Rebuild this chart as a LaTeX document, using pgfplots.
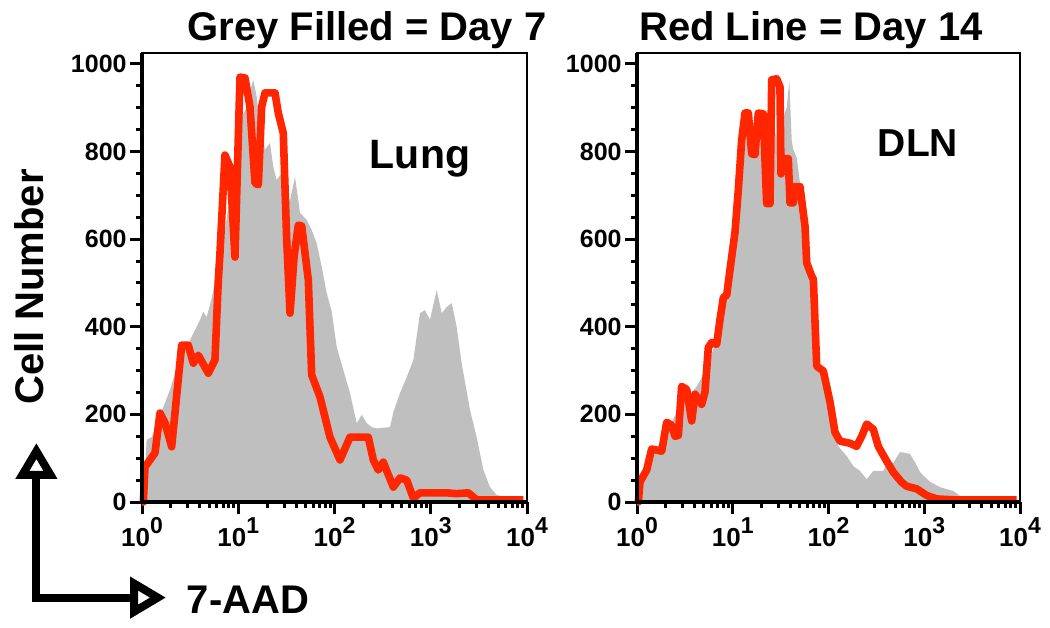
\documentclass[border=0pt]{standalone}
\usepackage{fontspec}
\setmainfont{Liberation Sans}
\usepackage{pgfplots}
\usepackage{pgfplotstable}
\pgfplotsset{compat=1.18}
\usetikzlibrary{arrows.meta}
\definecolor{redl}{RGB}{255,38,0}
\definecolor{greyf}{RGB}{191,191,191}
\newcommand{\pw}[1]{10\raisebox{6.5pt}{\fontsize{11.5}{11.5}\selectfont #1}}
\newcommand{\bigf}{\fontsize{20}{20}\selectfont\bfseries}

\pgfplotstableread{
lx y
0.000 0
0.030 60
0.048 142
0.100 148
0.152 175
0.222 217
0.291 256
0.343 294
0.429 340
0.516 377
0.603 416
0.637 434
0.672 422
0.724 465
0.776 523
0.845 598
0.914 696
0.984 804
1.036 879
1.088 902
1.122 941
1.157 963
1.192 925
1.226 856
1.278 804
1.330 820
1.364 765
1.399 735
1.451 751
1.486 696
1.538 690
1.590 742
1.642 660
1.711 644
1.763 621
1.815 591
1.867 537
1.919 477
1.971 435
2.023 354
2.092 301
2.161 249
2.231 180
2.283 199
2.335 180
2.386 171
2.438 168
2.577 171
2.611 205
2.681 249
2.750 285
2.819 324
2.888 431
2.940 438
2.992 416
3.062 484
3.114 431
3.165 445
3.218 454
3.269 400
3.321 317
3.408 210
3.477 148
3.547 73
3.616 34
3.685 16
3.962 3
4.000 3
}\lunggrey

\pgfplotstableread{
lx y
0.000 0
0.014 0
0.031 80
0.135 112
0.187 203
0.240 180
0.308 126
0.412 358
0.481 358
0.533 317
0.585 335
0.689 294
0.758 324
0.793 507
0.810 568
0.862 792
0.914 765
0.966 559
1.018 970
1.070 968
1.122 902
1.174 728
1.209 724
1.243 902
1.278 934
1.382 934
1.416 888
1.468 842
1.503 600
1.538 431
1.580 560
1.624 632
1.659 630
1.728 507
1.745 400
1.763 290
1.849 240
1.953 148
2.057 96
2.161 148
2.351 148
2.403 96
2.455 73
2.507 91
2.611 34
2.681 55
2.750 50
2.819 9
2.888 21
3.165 21
3.269 19
3.390 21
3.477 5
3.962 5
}\lungred

\pgfplotstableread{
lx y
0.000 0
0.031 10
0.066 46
0.136 82
0.206 121
0.310 159
0.414 205
0.519 235
0.623 264
0.728 303
0.797 349
0.867 417
0.902 440
0.937 470
0.971 490
1.023 597
1.058 672
1.093 763
1.128 840
1.180 847
1.215 786
1.267 825
1.319 820
1.371 804
1.424 847
1.476 830
1.528 877
1.563 900
1.591 961
1.616 825
1.633 804
1.668 786
1.702 729
1.737 672
1.772 613
1.807 558
1.842 506
1.859 400
1.911 310
1.981 241
2.050 164
2.103 127
2.190 105
2.259 82
2.329 71
2.399 52
2.468 71
2.572 71
2.608 87
2.677 90
2.747 114
2.851 110
2.903 91
2.956 68
3.060 46
3.164 34
3.303 25
3.373 14
3.478 10
3.966 4
4.000 4
}\dlngrey

\pgfplotstableread{
lx y
0.000 0
0.014 0
0.031 46
0.101 73
0.153 121
0.258 116
0.310 182
0.362 175
0.397 150
0.432 152
0.466 264
0.519 257
0.571 185
0.606 246
0.675 223
0.710 251
0.745 353
0.780 364
0.832 360
0.867 417
0.902 467
0.937 472
0.971 530
1.023 615
1.058 712
1.093 826
1.128 888
1.163 888
1.198 795
1.232 793
1.267 888
1.319 886
1.354 681
1.389 681
1.407 964
1.459 966
1.493 948
1.504 749
1.546 784
1.580 784
1.598 683
1.633 683
1.650 720
1.702 720
1.755 629
1.772 546
1.824 516
1.842 508
1.877 310
1.946 299
2.016 228
2.068 159
2.120 139
2.225 134
2.294 127
2.347 150
2.399 178
2.468 166
2.520 127
2.608 93
2.677 68
2.764 45
2.816 36
2.921 30
3.025 15
3.130 7
3.303 5
3.966 5
}\dlnred

\pgfplotsset{
  histo/.style={
    scale only axis, height=224.5pt,
    xmin=0, xmax=4, ymin=0, ymax=1025,
    clip=false,
    tick pos=left,
    xtick={0,1,2,3,4},
    xticklabels={\pw{0},\pw{1},\pw{2},\pw{3},\pw{4}},
    minor xtick={0.301,0.477,0.602,0.699,0.778,0.845,0.903,0.954,
      1.301,1.477,1.602,1.699,1.778,1.845,1.903,1.954,
      2.301,2.477,2.602,2.699,2.778,2.845,2.903,2.954,
      3.301,3.477,3.602,3.699,3.778,3.845,3.903,3.954},
    ytick={0,200,400,600,800,1000},
    yticklabels={0,200,400,600,800,1000},
    minor ytick={50,100,150,250,300,350,450,500,550,650,700,750,850,900,950},
    tick align=outside,
    major tick length=6pt,
    minor tick length=3pt,
    major tick style={black, line width=1.5pt},
    minor tick style={black, line width=1.5pt},
    axis line style={line width=0.8pt},
    x tick label style={font=\fontsize{13}{13}\selectfont\bfseries, inner sep=1.5pt},
    y tick label style={font=\fontsize{12.5}{12.5}\selectfont\bfseries, inner sep=1.5pt},
  }
}

\begin{document}
\begin{tikzpicture}
\useasboundingbox (0,0) rectangle (525pt,313.5pt);

\begin{axis}[histo, at={(71pt,62.5pt)}, anchor=south west, width=192.5pt]
\addplot[fill=greyf, draw=none] table[x=lx, y=y] {\lunggrey} \closedcycle;
\addplot[redl, line width=3.8pt, line join=round] table[x=lx, y=y] {\lungred};
\draw[line width=1.7pt] (rel axis cs:0,1) -- (rel axis cs:0,0) -- (rel axis cs:1,0);
\end{axis}

\begin{axis}[histo, at={(318.5pt,62.5pt)}, anchor=south west, width=191.5pt]
\addplot[fill=greyf, draw=none] table[x=lx, y=y] {\dlngrey} \closedcycle;
\addplot[redl, line width=3.8pt, line join=round] table[x=lx, y=y] {\dlnred};
\draw[line width=1.7pt] (rel axis cs:0,1) -- (rel axis cs:0,0) -- (rel axis cs:1,0);
\end{axis}

\node[anchor=base, inner sep=0pt] at (183.5pt,293pt) {\bigf Grey Filled = Day 7};
\node[anchor=base, inner sep=0pt] at (405.5pt,293pt) {\bigf Red Line = Day 14};
\node[anchor=base, inner sep=0pt] at (210pt,229pt) {\fontsize{20.5}{20.5}\selectfont\bfseries Lung};
\node[anchor=base, inner sep=0pt] at (459pt,235pt) {\fontsize{19.5}{19.5}\selectfont\bfseries DLN};
\node[anchor=base, inner sep=0pt, rotate=90] at (21.5pt,170pt) {\bigf Cell Number};
\node[anchor=base, inner sep=0pt] at (124pt,7pt) {\bigf 7-AAD};
\draw[line width=4pt, line join=miter,
  {Triangle[open, length=18pt, width=20pt]}-{Triangle[open, length=18pt, width=20pt]}]
  (18.2pt,92pt) -- (18.2pt,14.7pt) -- (83pt,14.7pt);
\end{tikzpicture}
\end{document}
